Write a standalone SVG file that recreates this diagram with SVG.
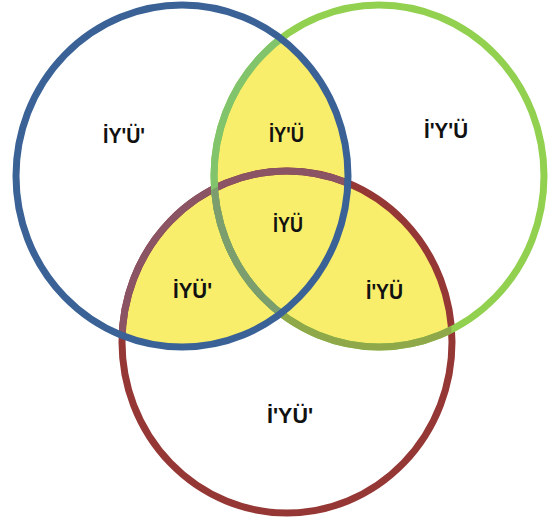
<svg xmlns="http://www.w3.org/2000/svg" width="549" height="522" viewBox="0 0 549 522">
<style>
.lbl{font-family:"Liberation Sans",Arial,sans-serif;font-weight:bold;font-size:22px;fill:#111}
.ring{fill:none;stroke-width:7}
</style>
<defs>
<clipPath id="cB"><ellipse cx="182" cy="176" rx="166" ry="171"/></clipPath>
<clipPath id="cG"><ellipse cx="379" cy="176" rx="165" ry="171"/></clipPath>
<clipPath id="cR"><ellipse cx="287" cy="342" rx="165" ry="171"/></clipPath>
</defs>
<rect width="549" height="522" fill="#ffffff"/>
<g id="fills">
<g clip-path="url(#cB)"><ellipse cx="379" cy="176" rx="165" ry="171" fill="#f9ee6b"/><ellipse cx="287" cy="342" rx="165" ry="171" fill="#f9ee6b"/></g>
<g clip-path="url(#cG)"><ellipse cx="287" cy="342" rx="165" ry="171" fill="#f9ee6b"/></g>
</g>
<g id="red-set"><ellipse class="ring" cx="287" cy="342" rx="165" ry="171" stroke="#953735"/>
<g clip-path="url(#cB)"><ellipse class="ring" cx="287" cy="342" rx="165" ry="171" stroke="#8a5464"/></g></g>
<g id="green-set"><ellipse class="ring" cx="379" cy="176" rx="165" ry="171" stroke="#92d050"/>
<g clip-path="url(#cB)"><ellipse class="ring" cx="379" cy="176" rx="165" ry="171" stroke="#82c46c"/></g>
<g clip-path="url(#cR)"><ellipse class="ring" cx="379" cy="176" rx="165" ry="171" stroke="#8ea84a"/>
<g clip-path="url(#cB)"><ellipse class="ring" cx="379" cy="176" rx="165" ry="171" stroke="#7c9e6e"/></g></g></g>
<g id="blue-set"><ellipse class="ring" cx="182" cy="176" rx="166" ry="171" stroke="#3a6296"/></g>
<g id="labels">
<text class="lbl" x="103" y="143" textLength="42" lengthAdjust="spacingAndGlyphs">İY'Ü'</text>
<text class="lbl" x="269" y="142" textLength="35" lengthAdjust="spacingAndGlyphs">İY'Ü</text>
<text class="lbl" x="424" y="138" textLength="44" lengthAdjust="spacingAndGlyphs">İ'Y'Ü</text>
<text class="lbl" x="273" y="232" textLength="30" lengthAdjust="spacingAndGlyphs">İYÜ</text>
<text class="lbl" x="173" y="298" textLength="39" lengthAdjust="spacingAndGlyphs">İYÜ'</text>
<text class="lbl" x="366" y="299" textLength="37" lengthAdjust="spacingAndGlyphs">İ'YÜ</text>
<text class="lbl" x="267" y="423" textLength="46" lengthAdjust="spacingAndGlyphs">İ'YÜ'</text>
</g>
</svg>
